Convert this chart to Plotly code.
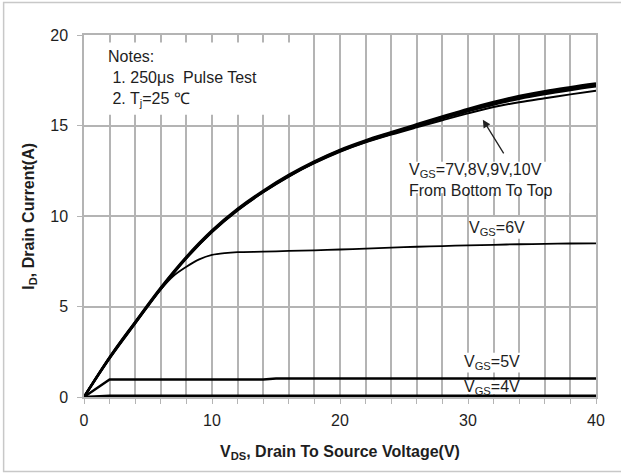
import plotly.graph_objects as go

# ---- data ----
vds = [0, 2, 4, 6, 8, 10, 12, 14, 16, 18, 20, 22, 24, 26, 28, 30, 32, 34, 36, 38, 40]
id_10v = [0, 2.2, 4.15, 6.05, 7.75, 9.2, 10.4, 11.4, 12.27, 13.02, 13.66, 14.18, 14.63, 15.07, 15.5, 15.92, 16.3, 16.63, 16.9, 17.12, 17.32]
id_9v = [0, 2.17, 4.11, 6.01, 7.71, 9.16, 10.36, 11.36, 12.23, 12.98, 13.62, 14.14, 14.59, 15.02, 15.44, 15.85, 16.23, 16.55, 16.82, 17.04, 17.24]
id_8v = [0, 2.14, 4.07, 5.97, 7.67, 9.12, 10.32, 11.32, 12.19, 12.94, 13.58, 14.1, 14.54, 14.97, 15.39, 15.78, 16.16, 16.48, 16.74, 16.96, 17.16]
id_7v = [0, 2.14, 4.07, 5.97, 7.67, 9.12, 10.32, 11.32, 12.19, 12.92, 13.55, 14.07, 14.5, 14.9, 15.29, 15.67, 16.02, 16.29, 16.51, 16.72, 16.92]

vds_6v = [0, 2, 4, 6, 7, 8, 9, 10, 11, 12, 14, 16, 18, 20, 22, 24, 26, 28, 30, 32, 34, 36, 38, 40]
id_6v = [0, 2.2, 4.15, 5.95, 6.7, 7.2, 7.6, 7.85, 7.95, 8.0, 8.03, 8.07, 8.1, 8.15, 8.2, 8.25, 8.3, 8.34, 8.38, 8.41, 8.44, 8.46, 8.48, 8.49]

vds_5v = [0, 2, 14, 15, 40]
id_5v = [0, 0.97, 0.97, 1.02, 1.02]

vds_4v = [0, 2, 40]
id_4v = [0, 0.07, 0.07]

x_ticks = [0, 10, 20, 30, 40]
y_ticks = [0, 5, 10, 15, 20]

GRID = "#b4b4b4"
TXT = "#1e1e1e"
FONT = "Liberation Sans, Arial, sans-serif"

fig = go.Figure()
for ys, w in [(id_7v, 2.0), (id_8v, 2.4), (id_9v, 2.4), (id_10v, 2.4)]:
    fig.add_trace(go.Scatter(x=vds, y=ys, mode="lines",
                             line=dict(color="black", width=w, shape="spline", smoothing=1.0),
                             showlegend=False, hoverinfo="skip"))
fig.add_trace(go.Scatter(x=vds_6v, y=id_6v, mode="lines",
                         line=dict(color="black", width=1.8, shape="spline", smoothing=0.8), showlegend=False))
fig.add_trace(go.Scatter(x=vds_5v, y=id_5v, mode="lines", line=dict(color="black", width=2.4), showlegend=False))
fig.add_trace(go.Scatter(x=vds_4v, y=id_4v, mode="lines", line=dict(color="black", width=2.4), showlegend=False))

# white backgrounds behind the text (above gridlines, below traces)
bg_boxes = [
    (0.15, 17.0, 15.6, 19.58),
    (25.0, 37.9, 11.25, 13.0),
    (30.6, 35.2, 8.75, 9.95),
    (29.4, 34.2, 1.35, 2.45),
    (29.4, 34.2, 0.15, 0.92),
]
for x0, x1, y0, y1 in bg_boxes:
    fig.add_shape(type="rect", x0=x0, x1=x1, y0=y0, y1=y1, xref="x", yref="y",
                  fillcolor="white", line=dict(width=0), layer="between")

# outer frame of the picture
fig.add_shape(type="rect", xref="paper", yref="paper", x0=-0.157, x1=1.06, y0=-0.206, y1=1.09,
              line=dict(color="#c8c8c8", width=1.5), fillcolor="rgba(0,0,0,0)", layer="above")

nb = "\u00a0"
anns = [
    dict(x=1.7, y=17.62, text=f"Notes:<br>{nb}1. 250μs{nb}{nb}Pulse Test<br>{nb}2. T<sub>j</sub>=25 ℃",
         xanchor="left", yanchor="middle", align="left"),
    dict(x=25.2, y=12.0, text="V<sub>GS</sub>=7V,8V,9V,10V<br>From Bottom To Top",
         xanchor="left", yanchor="middle", align="left"),
    dict(x=32.3, y=9.3, text="V<sub>GS</sub>=6V", xanchor="center", yanchor="middle"),
    dict(x=31.85, y=1.92, text="V<sub>GS</sub>=5V", xanchor="center", yanchor="middle"),
    dict(x=31.85, y=0.52, text="V<sub>GS</sub>=4V", xanchor="center", yanchor="middle"),
]
for a in anns:
    fig.add_annotation(showarrow=False, font=dict(family=FONT, size=16, color=TXT), **a)

# axis titles
fig.add_annotation(xref="paper", yref="paper", x=0.5, y=-0.153, xanchor="center", yanchor="middle",
                   text="<b>V<sub>DS</sub>, Drain To Source Voltage(V)</b>", showarrow=False,
                   font=dict(family=FONT, size=16, color=TXT))
fig.add_annotation(xref="paper", yref="paper", x=-0.108, y=0.5, xanchor="center", yanchor="middle",
                   text="<b>I<sub>D</sub>, Drain Current(A)</b>", showarrow=False, textangle=-90,
                   font=dict(family=FONT, size=16, color=TXT))

# arrow
fig.add_annotation(x=31.16, y=15.32, ax=32.86, ay=13.38, xref="x", yref="y", axref="x", ayref="y",
                   text="", showarrow=True, arrowhead=2, arrowsize=1.2, arrowwidth=1.3, arrowcolor="#222")

fig.update_xaxes(range=[0, 40], tickvals=x_ticks, showgrid=True, gridcolor=GRID, gridwidth=1.5,
                 minor=dict(dtick=2, showgrid=True, gridcolor=GRID, gridwidth=1.5, ticks="outside", ticklen=5, tickcolor=GRID),
                 ticks="outside", ticklen=5, tickcolor=GRID, showline=True, linecolor=GRID, linewidth=1.5, mirror=True,
                 zeroline=False, tickfont=dict(family=FONT, size=16, color=TXT), ticklabelstandoff=3,
                 automargin=False)
fig.update_yaxes(range=[0, 20], tickvals=y_ticks, showgrid=True, gridcolor=GRID, gridwidth=1.5,
                 ticks="outside", ticklen=5, tickcolor=GRID, showline=True, linecolor=GRID, linewidth=1.5, mirror=True,
                 zeroline=False, tickfont=dict(family=FONT, size=16, color=TXT), ticklabelstandoff=6,
                 automargin=False)

fig.update_layout(width=621, height=473, margin=dict(l=84, r=25, t=35, b=76),
                  plot_bgcolor="white", paper_bgcolor="white", showlegend=False)

fig.write_html("out.html", config={"displayModeBar": False},
               post_script="document.body.style.margin='0';")
